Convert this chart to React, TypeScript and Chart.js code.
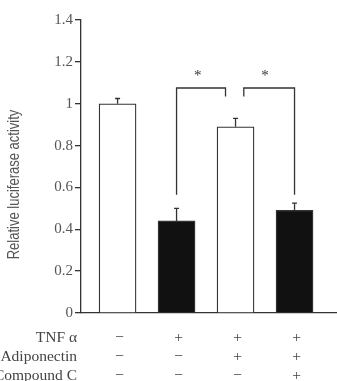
import React, { useEffect, useRef } from "react";
import { Chart, registerables } from "chart.js";

Chart.register(...registerables);

const groups = [1, 2, 3, 4];
const means = [1.0, 0.44, 0.89, 0.49];
const errors = [0.025, 0.06, 0.04, 0.035];
const barColors = ["#ffffff", "#111111", "#ffffff", "#111111"];
const yTicks = [0, 0.2, 0.4, 0.6, 0.8, 1, 1.2, 1.4];
const yTitle = "Relative luciferase activity";
const rowNames = ["TNF α", "Adiponectin", "Compound C"];
const rowSigns = [
  ["−", "+", "+", "+"],
  ["−", "−", "+", "+"],
  ["−", "−", "−", "+"],
];
// brackets: [leftX, rightX, top, leftLegBottom, rightLegBottom]
const brackets = [
  [2, 2.83, 1.075, 0.565, 1.035],
  [3.14, 4, 1.075, 1.035, 0.565],
];
const starX = [2.36, 3.5];
const starY = 1.145;

export default function App() {
  const ref = useRef<HTMLCanvasElement>(null);
  useEffect(() => {
    document.body.style.margin = "0";
    const ctx = ref.current!;
    const overlay = {
      id: "overlay",
      afterDatasetsDraw(chart: any) {
        const c = chart.ctx;
        const xs = chart.scales.x;
        const ys = chart.scales.y;
        const area = chart.chartArea;
        c.save();
        c.strokeStyle = "#333";
        c.lineWidth = 1.3;
        // error bars
        groups.forEach((g, i) => {
          const x = xs.getPixelForValue(g);
          const y0 = ys.getPixelForValue(means[i]);
          const y1 = ys.getPixelForValue(means[i] + errors[i]);
          c.beginPath();
          c.moveTo(x, y0);
          c.lineTo(x, y1);
          c.moveTo(x - 2.5, y1);
          c.lineTo(x + 2.5, y1);
          c.stroke();
        });
        // brackets
        brackets.forEach((b) => {
          const xl = xs.getPixelForValue(b[0]);
          const xr = xs.getPixelForValue(b[1]);
          const yt = ys.getPixelForValue(b[2]);
          c.beginPath();
          c.moveTo(xl, ys.getPixelForValue(b[3]));
          c.lineTo(xl, yt);
          c.lineTo(xr, yt);
          c.lineTo(xr, ys.getPixelForValue(b[4]));
          c.stroke();
        });
        c.fillStyle = "#333";
        c.font = "15px 'Liberation Serif'";
        c.textAlign = "center";
        c.textBaseline = "middle";
        starX.forEach((sx) => {
          c.fillText("*", xs.getPixelForValue(sx), ys.getPixelForValue(starY) + 3);
        });
        // y title
        c.save();
        c.translate(15, (area.top + area.bottom) / 2 + 18);
        c.rotate(-Math.PI / 2);
        c.scale(1, 1.2);
        c.font = "13px 'Liberation Sans'";
        c.fillStyle = "#555";
        c.fillText(yTitle, 0, 0);
        c.restore();
        // condition rows
        const base = area.bottom;
        c.font = "15.5px 'Liberation Serif'";
        c.fillStyle = "#444";
        rowNames.forEach((name, r) => {
          const y = base + 25 + r * 19;
          c.textAlign = "right";
          c.fillText(name, 77, y);
          c.textAlign = "center";
          rowSigns[r].forEach((s, i) => {
            c.fillText(s, xs.getPixelForValue(groups[i]) + 2, y);
          });
        });
        c.restore();
      },
    };
    const chart = new Chart(ctx, {
      type: "bar",
      data: {
        datasets: [
          {
            data: groups.map((g, i) => ({ x: g, y: means[i] })),
            backgroundColor: barColors,
            borderColor: "#333",
            borderWidth: 1.3,
            borderSkipped: "bottom",
            barThickness: 37,
          },
        ],
      },
      options: {
        animation: false,
        responsive: false,
        maintainAspectRatio: false,
        layout: { padding: { left: 0, right: 0, top: 20, bottom: 68 } },
        plugins: { legend: { display: false }, tooltip: { enabled: false } },
        scales: {
          x: {
            type: "linear",
            offset: false,
            min: 0.38,
            max: 4.72,
            ticks: { display: false },
            grid: { display: false, drawTicks: false },
            border: { display: true, color: "#333", width: 1.3 },
            afterFit: (s: any) => {
              s.height = 0;
            },
          },
          y: {
            min: 0,
            max: 1.4,
            afterBuildTicks: (s: any) => {
              s.ticks = yTicks.map((v) => ({ value: v }));
            },
            ticks: {
              color: "#555",
              font: { family: "'Liberation Serif'", size: 15 },
              padding: 2,
              callback: (v: any) => String(Math.round(Number(v) * 10) / 10),
            },
            grid: {
              drawOnChartArea: false,
              drawTicks: true,
              tickLength: 6,
              color: "#333",
              lineWidth: 1.3,
            },
            border: { display: true, color: "#333", width: 1.3 },
            afterFit: (s: any) => {
              s.width = 81;
            },
          },
        },
      },
      plugins: [overlay],
    });
    return () => chart.destroy();
  }, []);
  return (
    <div style={{ width: 337, height: 381 }}>
      <canvas ref={ref} width={337} height={381} style={{ display: "block" }} />
    </div>
  );
}
